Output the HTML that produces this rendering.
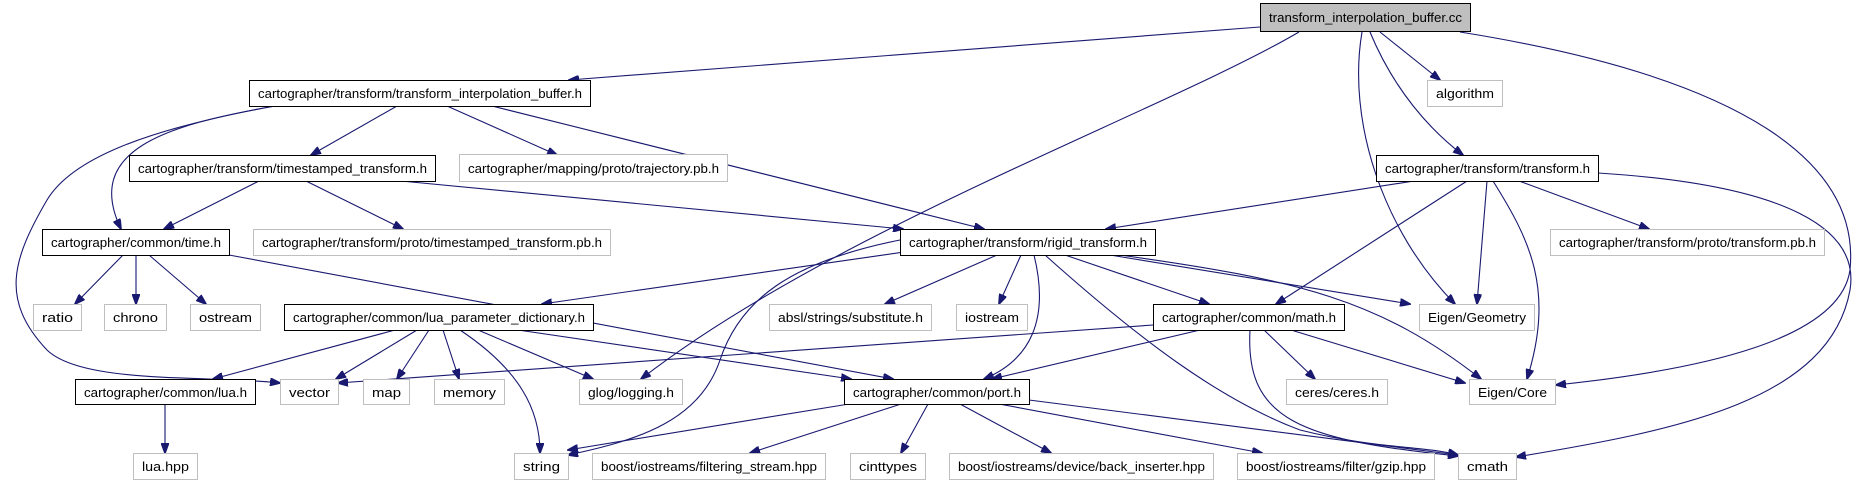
<!DOCTYPE html>
<html><head><meta charset="utf-8"><style>
html,body{margin:0;padding:0;background:#fff;}
svg{display:block;}
text{font-family:"Liberation Sans",sans-serif;font-size:12.5px;fill:#000;}
.b{fill:#fff;stroke:#000;stroke-width:1;}
.g{fill:#fff;stroke:#bfbfbf;stroke-width:1;}
path{fill:none;stroke:#191970;stroke-width:1.1;}
</style></head><body>
<svg width="1864" height="485" viewBox="0 0 1864 485" xmlns="http://www.w3.org/2000/svg">
<defs><marker id="a" markerWidth="11" markerHeight="8" refX="10" refY="4" orient="auto" markerUnits="userSpaceOnUse"><polygon points="0,0 11,4 0,8" fill="#191970" stroke="#191970"/></marker></defs>
<g marker-end="url(#a)">
<path d="M1260,27 L569,80"/>
<path d="M1299,32 C1166,110 833,230 641,379"/>
<path d="M1362,32 C1347,120 1382,230 1455,304"/>
<path d="M1370,32 C1394,90 1430,130 1463,155"/>
<path d="M1380,32 L1440,80"/>
<path d="M1460,32 C1760,80 1860,170 1850,270 C1840,340 1700,370 1556,385"/>
<path d="M275,106 C142,130 71,160 47,200 C12,260 0,300 47,350 C83,385 213,375 280,383"/>
<path d="M275,106 C166,125 83,150 121,229"/>
<path d="M397,106 L311,155"/>
<path d="M447,106 L557,155"/>
<path d="M492,106 L984,229"/>
<path d="M259,181 L164,229"/>
<path d="M306,181 L403,229"/>
<path d="M401,181 L903,229"/>
<path d="M1414,181 L1106,229"/>
<path d="M1467,181 L1276,304"/>
<path d="M1487,181 L1477,304"/>
<path d="M1493,181 C1530,240 1555,290 1527,379"/>
<path d="M1519,181 L1649,229"/>
<path d="M1598,173 C1790,185 1860,230 1850,290 C1830,400 1680,430 1516,457"/>
<path d="M123,255 L75,304"/>
<path d="M136,255 L136,304"/>
<path d="M149,255 L206,304"/>
<path d="M229,255 L893,379"/>
<path d="M932,248 L542,304"/>
<path d="M900,240 C790,262 740,300 720,360 C700,420 640,440 568,455"/>
<path d="M997,255 L885,304"/>
<path d="M1021,255 L999,304"/>
<path d="M1034,255 C1050,320 1030,360 984,379"/>
<path d="M1065,255 L1209,304"/>
<path d="M1110,255 L1410,304"/>
<path d="M1120,255 C1300,280 1380,300 1481,379"/>
<path d="M1045,255 C1140,340 1220,400 1300,430 C1380,450 1420,445 1458,455"/>
<path d="M395,330 L213,379"/>
<path d="M417,330 L336,379"/>
<path d="M429,330 L397,379"/>
<path d="M443,330 L459,379"/>
<path d="M460,330 C520,370 540,410 540,453"/>
<path d="M478,330 L593,379"/>
<path d="M518,330 L851,379"/>
<path d="M165,404 L165,453"/>
<path d="M1153,325 L338,383"/>
<path d="M1200,330 L992,379"/>
<path d="M1264,330 L1315,379"/>
<path d="M1291,330 L1465,383"/>
<path d="M1250,330 C1245,420 1300,440 1458,456"/>
<path d="M849,404 L568,450"/>
<path d="M901,404 L750,453"/>
<path d="M928,404 L901,453"/>
<path d="M960,404 L1051,453"/>
<path d="M999,404 L1262,453"/>
<path d="M1029,400 L1458,455"/>
</g>
<rect x="1260.5" y="3.5" width="210" height="28" fill="#bfbfbf" stroke="#000"/>
<text x="1269" y="22" textLength="193" lengthAdjust="spacingAndGlyphs">transform_interpolation_buffer.cc</text>
<rect class="b" x="249.5" y="80.5" width="341" height="26"/><text x="258" y="98" textLength="324" lengthAdjust="spacingAndGlyphs">cartographer/transform/transform_interpolation_buffer.h</text>
<rect class="g" x="1427.5" y="80.5" width="75" height="26"/><text x="1436" y="98" textLength="58" lengthAdjust="spacingAndGlyphs">algorithm</text>
<rect class="b" x="129.5" y="155.5" width="306" height="26"/><text x="138" y="173" textLength="289" lengthAdjust="spacingAndGlyphs">cartographer/transform/timestamped_transform.h</text>
<rect class="g" x="459.5" y="154.5" width="268" height="27"/><text x="468" y="173" textLength="251" lengthAdjust="spacingAndGlyphs">cartographer/mapping/proto/trajectory.pb.h</text>
<rect class="b" x="1376.5" y="155.5" width="222" height="26"/><text x="1385" y="173" textLength="205" lengthAdjust="spacingAndGlyphs">cartographer/transform/transform.h</text>
<rect class="b" x="42.5" y="229.5" width="187" height="26"/><text x="51" y="247" textLength="170" lengthAdjust="spacingAndGlyphs">cartographer/common/time.h</text>
<rect class="g" x="253.5" y="229.5" width="357" height="26"/><text x="262" y="247" textLength="340" lengthAdjust="spacingAndGlyphs">cartographer/transform/proto/timestamped_transform.pb.h</text>
<rect class="b" x="900.5" y="229.5" width="255" height="26"/><text x="909" y="247" textLength="238" lengthAdjust="spacingAndGlyphs">cartographer/transform/rigid_transform.h</text>
<rect class="g" x="1550.5" y="229.5" width="274" height="26"/><text x="1559" y="247" textLength="257" lengthAdjust="spacingAndGlyphs">cartographer/transform/proto/transform.pb.h</text>
<rect class="g" x="33.5" y="304.5" width="48" height="26"/><text x="42" y="322" textLength="31" lengthAdjust="spacingAndGlyphs">ratio</text>
<rect class="g" x="104.5" y="304.5" width="62" height="26"/><text x="113" y="322" textLength="45" lengthAdjust="spacingAndGlyphs">chrono</text>
<rect class="g" x="190.5" y="304.5" width="70" height="26"/><text x="199" y="322" textLength="53" lengthAdjust="spacingAndGlyphs">ostream</text>
<rect class="b" x="284.5" y="304.5" width="309" height="26"/><text x="293" y="322" textLength="292" lengthAdjust="spacingAndGlyphs">cartographer/common/lua_parameter_dictionary.h</text>
<rect class="g" x="769.5" y="304.5" width="162" height="26"/><text x="778" y="322" textLength="145" lengthAdjust="spacingAndGlyphs">absl/strings/substitute.h</text>
<rect class="g" x="956.5" y="304.5" width="71" height="26"/><text x="965" y="322" textLength="54" lengthAdjust="spacingAndGlyphs">iostream</text>
<rect class="b" x="1153.5" y="304.5" width="191" height="26"/><text x="1162" y="322" textLength="174" lengthAdjust="spacingAndGlyphs">cartographer/common/math.h</text>
<rect class="g" x="1419.5" y="304.5" width="115" height="26"/><text x="1428" y="322" textLength="98" lengthAdjust="spacingAndGlyphs">Eigen/Geometry</text>
<rect class="b" x="75.5" y="379.5" width="180" height="25"/><text x="84" y="397" textLength="163" lengthAdjust="spacingAndGlyphs">cartographer/common/lua.h</text>
<rect class="g" x="280.5" y="379.5" width="58" height="25"/><text x="289" y="397" textLength="41" lengthAdjust="spacingAndGlyphs">vector</text>
<rect class="g" x="363.5" y="379.5" width="46" height="25"/><text x="372" y="397" textLength="29" lengthAdjust="spacingAndGlyphs">map</text>
<rect class="g" x="434.5" y="379.5" width="70" height="25"/><text x="443" y="397" textLength="53" lengthAdjust="spacingAndGlyphs">memory</text>
<rect class="g" x="579.5" y="379.5" width="103" height="25"/><text x="588" y="397" textLength="86" lengthAdjust="spacingAndGlyphs">glog/logging.h</text>
<rect class="b" x="844.5" y="379.5" width="185" height="25"/><text x="853" y="397" textLength="168" lengthAdjust="spacingAndGlyphs">cartographer/common/port.h</text>
<rect class="g" x="1286.5" y="379.5" width="101" height="25"/><text x="1295" y="397" textLength="84" lengthAdjust="spacingAndGlyphs">ceres/ceres.h</text>
<rect class="g" x="1469.5" y="379.5" width="86" height="25"/><text x="1478" y="397" textLength="69" lengthAdjust="spacingAndGlyphs">Eigen/Core</text>
<rect class="g" x="133.5" y="453.5" width="64" height="26"/><text x="142" y="471" textLength="47" lengthAdjust="spacingAndGlyphs">lua.hpp</text>
<rect class="g" x="514.5" y="453.5" width="54" height="26"/><text x="523" y="471" textLength="37" lengthAdjust="spacingAndGlyphs">string</text>
<rect class="g" x="592.5" y="453.5" width="233" height="26"/><text x="601" y="471" textLength="216" lengthAdjust="spacingAndGlyphs">boost/iostreams/filtering_stream.hpp</text>
<rect class="g" x="850.5" y="453.5" width="75" height="26"/><text x="859" y="471" textLength="58" lengthAdjust="spacingAndGlyphs">cinttypes</text>
<rect class="g" x="949.5" y="453.5" width="264" height="26"/><text x="958" y="471" textLength="247" lengthAdjust="spacingAndGlyphs">boost/iostreams/device/back_inserter.hpp</text>
<rect class="g" x="1237.5" y="453.5" width="197" height="26"/><text x="1246" y="471" textLength="180" lengthAdjust="spacingAndGlyphs">boost/iostreams/filter/gzip.hpp</text>
<rect class="g" x="1458.5" y="453.5" width="58" height="26"/><text x="1467" y="471" textLength="41" lengthAdjust="spacingAndGlyphs">cmath</text>
</svg>
</body></html>
